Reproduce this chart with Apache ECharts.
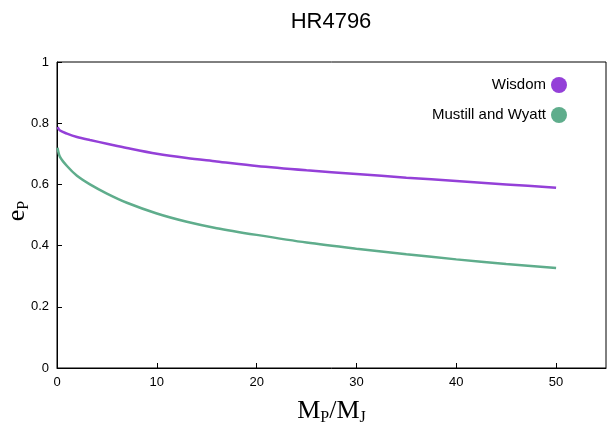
<!DOCTYPE html>
<html><head><meta charset="utf-8">
<script src="https://cdn.jsdelivr.net/npm/echarts@6/dist/echarts.min.js"></script>
<style>html,body{margin:0;padding:0;background:#fff}#c{width:607px;height:425px}</style>
</head><body><div id="c"></div>
<script>
const xs = [0.05,0.3,1,2,3.3,5,7,10,13,16,20,25,30,35,40,45,50];
const wisdom = [0.787,0.776,0.766,0.755,0.745,0.733,0.719,0.700,0.686,0.675,0.660,0.646,0.634,0.622,0.611,0.600,0.589];
const mustill = [0.72,0.69,0.66,0.628,0.600,0.570,0.540,0.505,0.478,0.457,0.435,0.410,0.390,0.372,0.355,0.340,0.327];
const c = echarts.init(document.getElementById('c'));
const F = 'Liberation Sans, Arial, sans-serif';
const RICH = {a:{fontFamily:'Liberation Serif, serif',fontSize:26,color:'#000'},s:{fontFamily:'Liberation Serif, serif',fontSize:16,color:'#000',padding:[14,0,0,0]}};
c.setOption({
  animation:false,
  title:{text:'HR4796',left:326,textAlign:'center',top:6,textStyle:{fontFamily:F,fontSize:22,fontWeight:'normal',color:'#000'}},
  legend:{orient:'vertical',right:35,top:72,align:'right',itemGap:14,itemWidth:16,itemHeight:16,
    textStyle:{fontFamily:F,fontSize:15,color:'#000'},
    data:[{name:'Wisdom',icon:'circle'},{name:'Mustill and Wyatt',icon:'circle'}]},
  grid:{left:57,right:1,top:62,bottom:57,containLabel:false,outerBoundsMode:'none'},
  xAxis:{type:'value',min:0,max:55,interval:10,
    name:'{a|M}{s|P}{a|/M}{s|J}',nameLocation:'middle',nameGap:28,
    nameTextStyle:{rich:RICH},
    axisLine:{lineStyle:{color:'#000'}},axisTick:{inside:true,lineStyle:{color:'#000'}},
    axisLabel:{fontFamily:F,fontSize:13,color:'#000',showMaxLabel:false},splitLine:{show:false}},
  yAxis:{type:'value',min:0,max:1,interval:0.2,
    axisLine:{lineStyle:{color:'#000'}},axisTick:{inside:true,lineStyle:{color:'#000'}},
    axisLabel:{fontFamily:F,fontSize:13,color:'#000',formatter:v=>String(+v.toFixed(1))},splitLine:{show:false}},
  graphic:[
    {type:'rect',shape:{x:57,y:62,width:549,height:306},style:{fill:'none',stroke:'#000',lineWidth:1},silent:true},
    {type:'text',x:17,y:211,rotation:Math.PI/2,style:{text:'{a|e}{s|P}',rich:RICH,align:'center',verticalAlign:'middle'},silent:true}
  ],
  series:[
    {name:'Wisdom',type:'line',smooth:0.3,symbol:'none',color:'#9440d8',lineStyle:{width:2.5},data:xs.map((x,i)=>[x,wisdom[i]])},
    {name:'Mustill and Wyatt',type:'line',smooth:0.3,symbol:'none',color:'#5fad8c',lineStyle:{width:2.5},data:xs.map((x,i)=>[x,mustill[i]])}
  ]
});
</script></body></html>
